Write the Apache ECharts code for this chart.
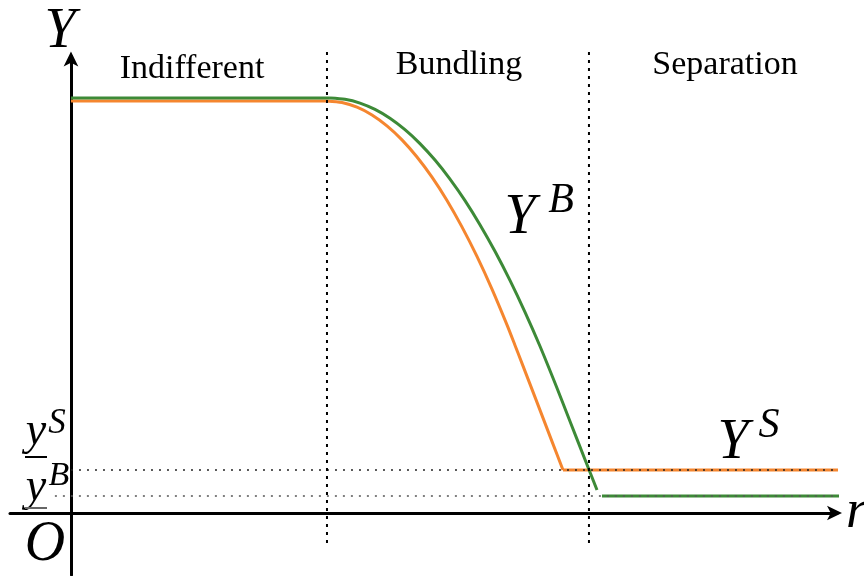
<!DOCTYPE html>
<html>
<head>
<meta charset="utf-8">
<script src="https://cdn.jsdelivr.net/npm/echarts@6/dist/echarts.min.js"></script>
<style>
  html, body { margin: 0; padding: 0; background: #ffffff; }
  #chart { width: 864px; height: 576px; }
</style>
</head>
<body>
<div id="chart"></div>
<script>
// Regime boundaries along r (Indifferent | Bundling | Separation)
const regimeBounds = [3.342, 6.762];

// Threshold levels underlined on the Y axis
const ySLevel = 0.942;   // y^S
const yBLevel = 0.372;   // y^B

// Flat plateau in the indifferent regime
const plateauGreen = 9.091;
const plateauOrange = 9.025;
const plateauGreenEnd = 3.381;
const plateauOrangeEnd = 3.342;

// Y^B through the bundling regime (green)
const greenR = [3.381, 3.577, 3.773, 3.969, 4.164, 4.360, 4.556, 4.752, 4.948, 5.144,
                5.339, 5.535, 5.731, 5.927, 6.123, 6.338, 6.514, 6.710, 6.867];
const greenY = [9.091, 9.063, 8.980, 8.841, 8.647, 8.397, 8.092, 7.731, 7.315, 6.844,
                6.316, 5.733, 5.095, 4.401, 3.652, 2.765, 2.011, 1.172, 0.504];

// Companion curve through the bundling regime (orange)
const orangeR = [3.342, 3.538, 3.734, 3.930, 4.125, 4.321, 4.517, 4.713, 4.909, 5.104,
                 5.300, 5.496, 5.692, 5.796, 5.888, 6.084, 6.279, 6.423];
const orangeY = [9.025, 8.991, 8.889, 8.719, 8.480, 8.174, 7.799, 7.357, 6.846, 6.267,
                 5.620, 4.904, 4.121, 3.676, 3.277, 2.423, 1.569, 0.942];

// Separation regime: flat segments at the two threshold levels
const greenSepR = [6.932, 10.117];
const orangeSepR = [6.423, 10.013];

const GREEN = '#3d8a37';
const ORANGE = '#f5862f';
const SERIF = "'Liberation Serif', 'DejaVu Serif', serif";

const zip = (xs, ys) => xs.map((x, i) => [x, ys[i]]);

const chart = echarts.init(document.getElementById('chart'), null, { renderer: 'canvas' });

function seg(data, color, width, extra) {
  return Object.assign({
    type: 'line',
    data: data,
    symbol: 'none',
    clip: false,
    silent: true,
    lineStyle: { color: color, width: width },
    emphasis: { disabled: true }
  }, extra || {});
}

const dotted = (data, color, width, dash, z) => seg(data, color, width, {
  lineStyle: { color: color, width: width, type: dash, cap: 'butt' },
  z: z
});

const series = [
  // indifferent plateau
  seg([[0, plateauGreen], [plateauGreenEnd, plateauGreen]], GREEN, 3, { z: 3 }),
  seg([[0, plateauOrange], [plateauOrangeEnd, plateauOrange]], ORANGE, 3, { z: 2 }),
  // bundling curves
  seg(zip(greenR, greenY), GREEN, 3, { smooth: 0.25, z: 3 }),
  seg(zip(orangeR, orangeY), ORANGE, 3, { smooth: 0.25, z: 2 }),
  // separation levels
  seg([[orangeSepR[0], ySLevel], [orangeSepR[1], ySLevel]], ORANGE, 3, { z: 2 }),
  seg([[greenSepR[0], yBLevel], [greenSepR[1], yBLevel]], GREEN, 3, { z: 3 }),
  // guide lines
  dotted([[0, ySLevel], [10.04, ySLevel]], '#222', 1.5, [2, 6], 5),
  dotted([[-0.21, yBLevel], [10.12, yBLevel]], '#555', 1.5, [2, 6], 5),
  dotted([[regimeBounds[0], 10.1], [regimeBounds[0], -0.70]], '#000', 2, [3, 5], 5),
  dotted([[regimeBounds[1], 10.1], [regimeBounds[1], -0.70]], '#000', 2, [3, 5], 5)
];

const axisCommon = {
  type: 'value',
  axisLine: {
    show: true,
    onZero: true,
    symbol: ['none', 'arrow'],
    symbolSize: [11, 15],
    symbolOffset: [0, 5],
    lineStyle: { color: '#000', width: 3 }
  },
  axisTick: { show: false },
  axisLabel: { show: false },
  splitLine: { show: false }
};

function txt(x, y, text, size, italic, align) {
  return {
    type: 'text', x: x, y: y, silent: true, z: 10,
    style: {
      text: text, fill: '#000',
      fontSize: size, fontFamily: SERIF,
      fontStyle: italic ? 'italic' : 'normal',
      align: align || 'center', verticalAlign: 'middle'
    }
  };
}

function underline(x1, x2, y, color) {
  return {
    type: 'line', silent: true, z: 10,
    shape: { x1: x1, y1: y, x2: x2, y2: y },
    style: { stroke: color, lineWidth: 2 }
  };
}

chart.setOption({
  animation: false,
  backgroundColor: '#ffffff',
  grid: { left: 10, right: 27, top: 56.5, bottom: 1, containLabel: false },
  xAxis: Object.assign({ min: -0.796, max: 10 }, axisCommon),
  yAxis: Object.assign({ min: -1.358, max: 10 }, axisCommon),
  series: series,
  graphic: [
    txt(60, 32, 'Y', 56, true),
    txt(192, 69, 'Indifferent', 34, false),
    txt(459, 65, 'Bundling', 34, false),
    txt(725, 65, 'Separation', 34, false),
    txt(520, 218, 'Y', 56, true),
    txt(561, 201, 'B', 42, true),
    txt(733, 443, 'Y', 56, true),
    txt(769, 426, 'S', 42, true),
    txt(36, 432, 'y', 46, true),
    txt(57, 424, 'S', 35, true),
    underline(25, 47, 457, '#000'),
    txt(36, 488, 'y', 46, true),
    txt(59, 476, 'B', 34, true),
    underline(25, 47, 508, '#666'),
    txt(45, 545, 'O', 56, true),
    txt(846, 513, 'r', 54, true, 'left')
  ]
});
</script>
</body>
</html>
